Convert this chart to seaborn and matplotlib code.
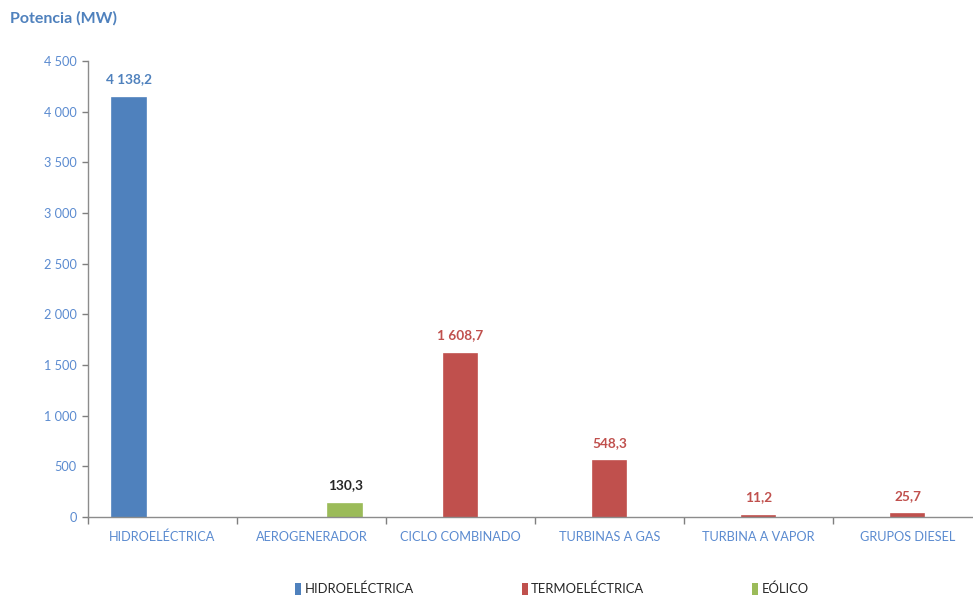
import matplotlib
matplotlib.use("Agg")
import matplotlib.pyplot as plt
from matplotlib.patches import Patch
import pandas as pd
import seaborn as sns

# Installed capacity by technology (MW)
categorias = ["HIDROELÉCTRICA", "AEROGENERADOR", "CICLO COMBINADO",
              "TURBINAS A GAS", "TURBINA A VAPOR", "GRUPOS DIESEL"]
tipos = ["HIDROELÉCTRICA", "EÓLICO", "TERMOELÉCTRICA",
         "TERMOELÉCTRICA", "TERMOELÉCTRICA", "TERMOELÉCTRICA"]
potencia = [4138.2, 130.3, 1608.7, 548.3, 11.2, 25.7]

series = ["HIDROELÉCTRICA", "TERMOELÉCTRICA", "EÓLICO"]
colores = ["#4F81BD", "#C0504D", "#9BBB59"]
colores_etiqueta = ["#4F81BD", "#C0504D", "#262626"]

yticks = [0, 500, 1000, 1500, 2000, 2500, 3000, 3500, 4000, 4500]
ytick_labels = ["0", "500", "1 000", "1 500", "2 000", "2 500",
                "3 000", "3 500", "4 000", "4 500"]

df = pd.DataFrame({"categoria": categorias, "tipo": tipos, "potencia": potencia})

sns.set_theme(style="white")
plt.rcParams["font.family"] = ["Lato", "DejaVu Sans"]

W, H = 973, 600
fig = plt.figure(figsize=(W / 100, H / 100), dpi=100)
ax = fig.add_axes([88 / W, 83 / H, 894 / W, 456 / H])

sns.barplot(data=df, x="categoria", y="potencia", hue="tipo",
            order=categorias, hue_order=series, palette=colores,
            width=0.68, dodge=True, saturation=1, legend=False, ax=ax)

# outline each bar in its own colour so the smallest values stay visible
for cont, col in zip(ax.containers, colores):
    for b in cont:
        b.set_edgecolor(col)
        b.set_linewidth(1.2)


def fmt(v):
    return f"{v:,.1f}".replace(",", " ").replace(".", ",")


for cont, col in zip(ax.containers, colores_etiqueta):
    vals = [b.get_height() for b in cont]
    ax.bar_label(cont, labels=[fmt(v) for v in vals], padding=9,
                 color=col, fontweight="bold", fontsize=9.8)

ax.set_xlim(-0.5, 5.5)
ax.set_ylim(0, 4500)
ax.set_yticks(yticks)
ax.set_yticklabels(ytick_labels)
ax.set_xlabel("")
ax.set_ylabel("")

label_color = "#5B8BD0"
ax.tick_params(axis="y", colors="#7F7F7F", labelcolor=label_color,
               labelsize=9.2, length=4, width=1, direction="out", left=True, pad=4)
ax.tick_params(axis="x", which="major", length=0, labelcolor=label_color,
               labelsize=9.2, pad=10)
ax.set_xticks([i - 0.5 for i in range(len(categorias))], minor=True)
ax.tick_params(axis="x", which="minor", length=5, width=1,
               color="#7F7F7F", direction="out", bottom=True)

for side in ["top", "right"]:
    ax.spines[side].set_visible(False)
for side in ["left", "bottom"]:
    ax.spines[side].set_color("#8C8C8C")
    ax.spines[side].set_linewidth(1)

fig.text(10 / W, 1 - 18 / H, "Potencia (MW)", color="#4F81BD",
         fontweight="bold", fontsize=11.5, va="center", ha="left")

handles = [Patch(facecolor=c, edgecolor="none", label=s)
           for s, c in zip(series, colores)]
fig.legend(handles=handles, loc="center", bbox_to_anchor=(552 / W, 1 - 589 / H),
           ncol=3, frameon=False, fontsize=9.4, handlelength=0.45,
           handleheight=1.0, handletextpad=0.25, columnspacing=8.3,
           labelcolor="#262626")

fig.savefig("out.png", dpi=100)
